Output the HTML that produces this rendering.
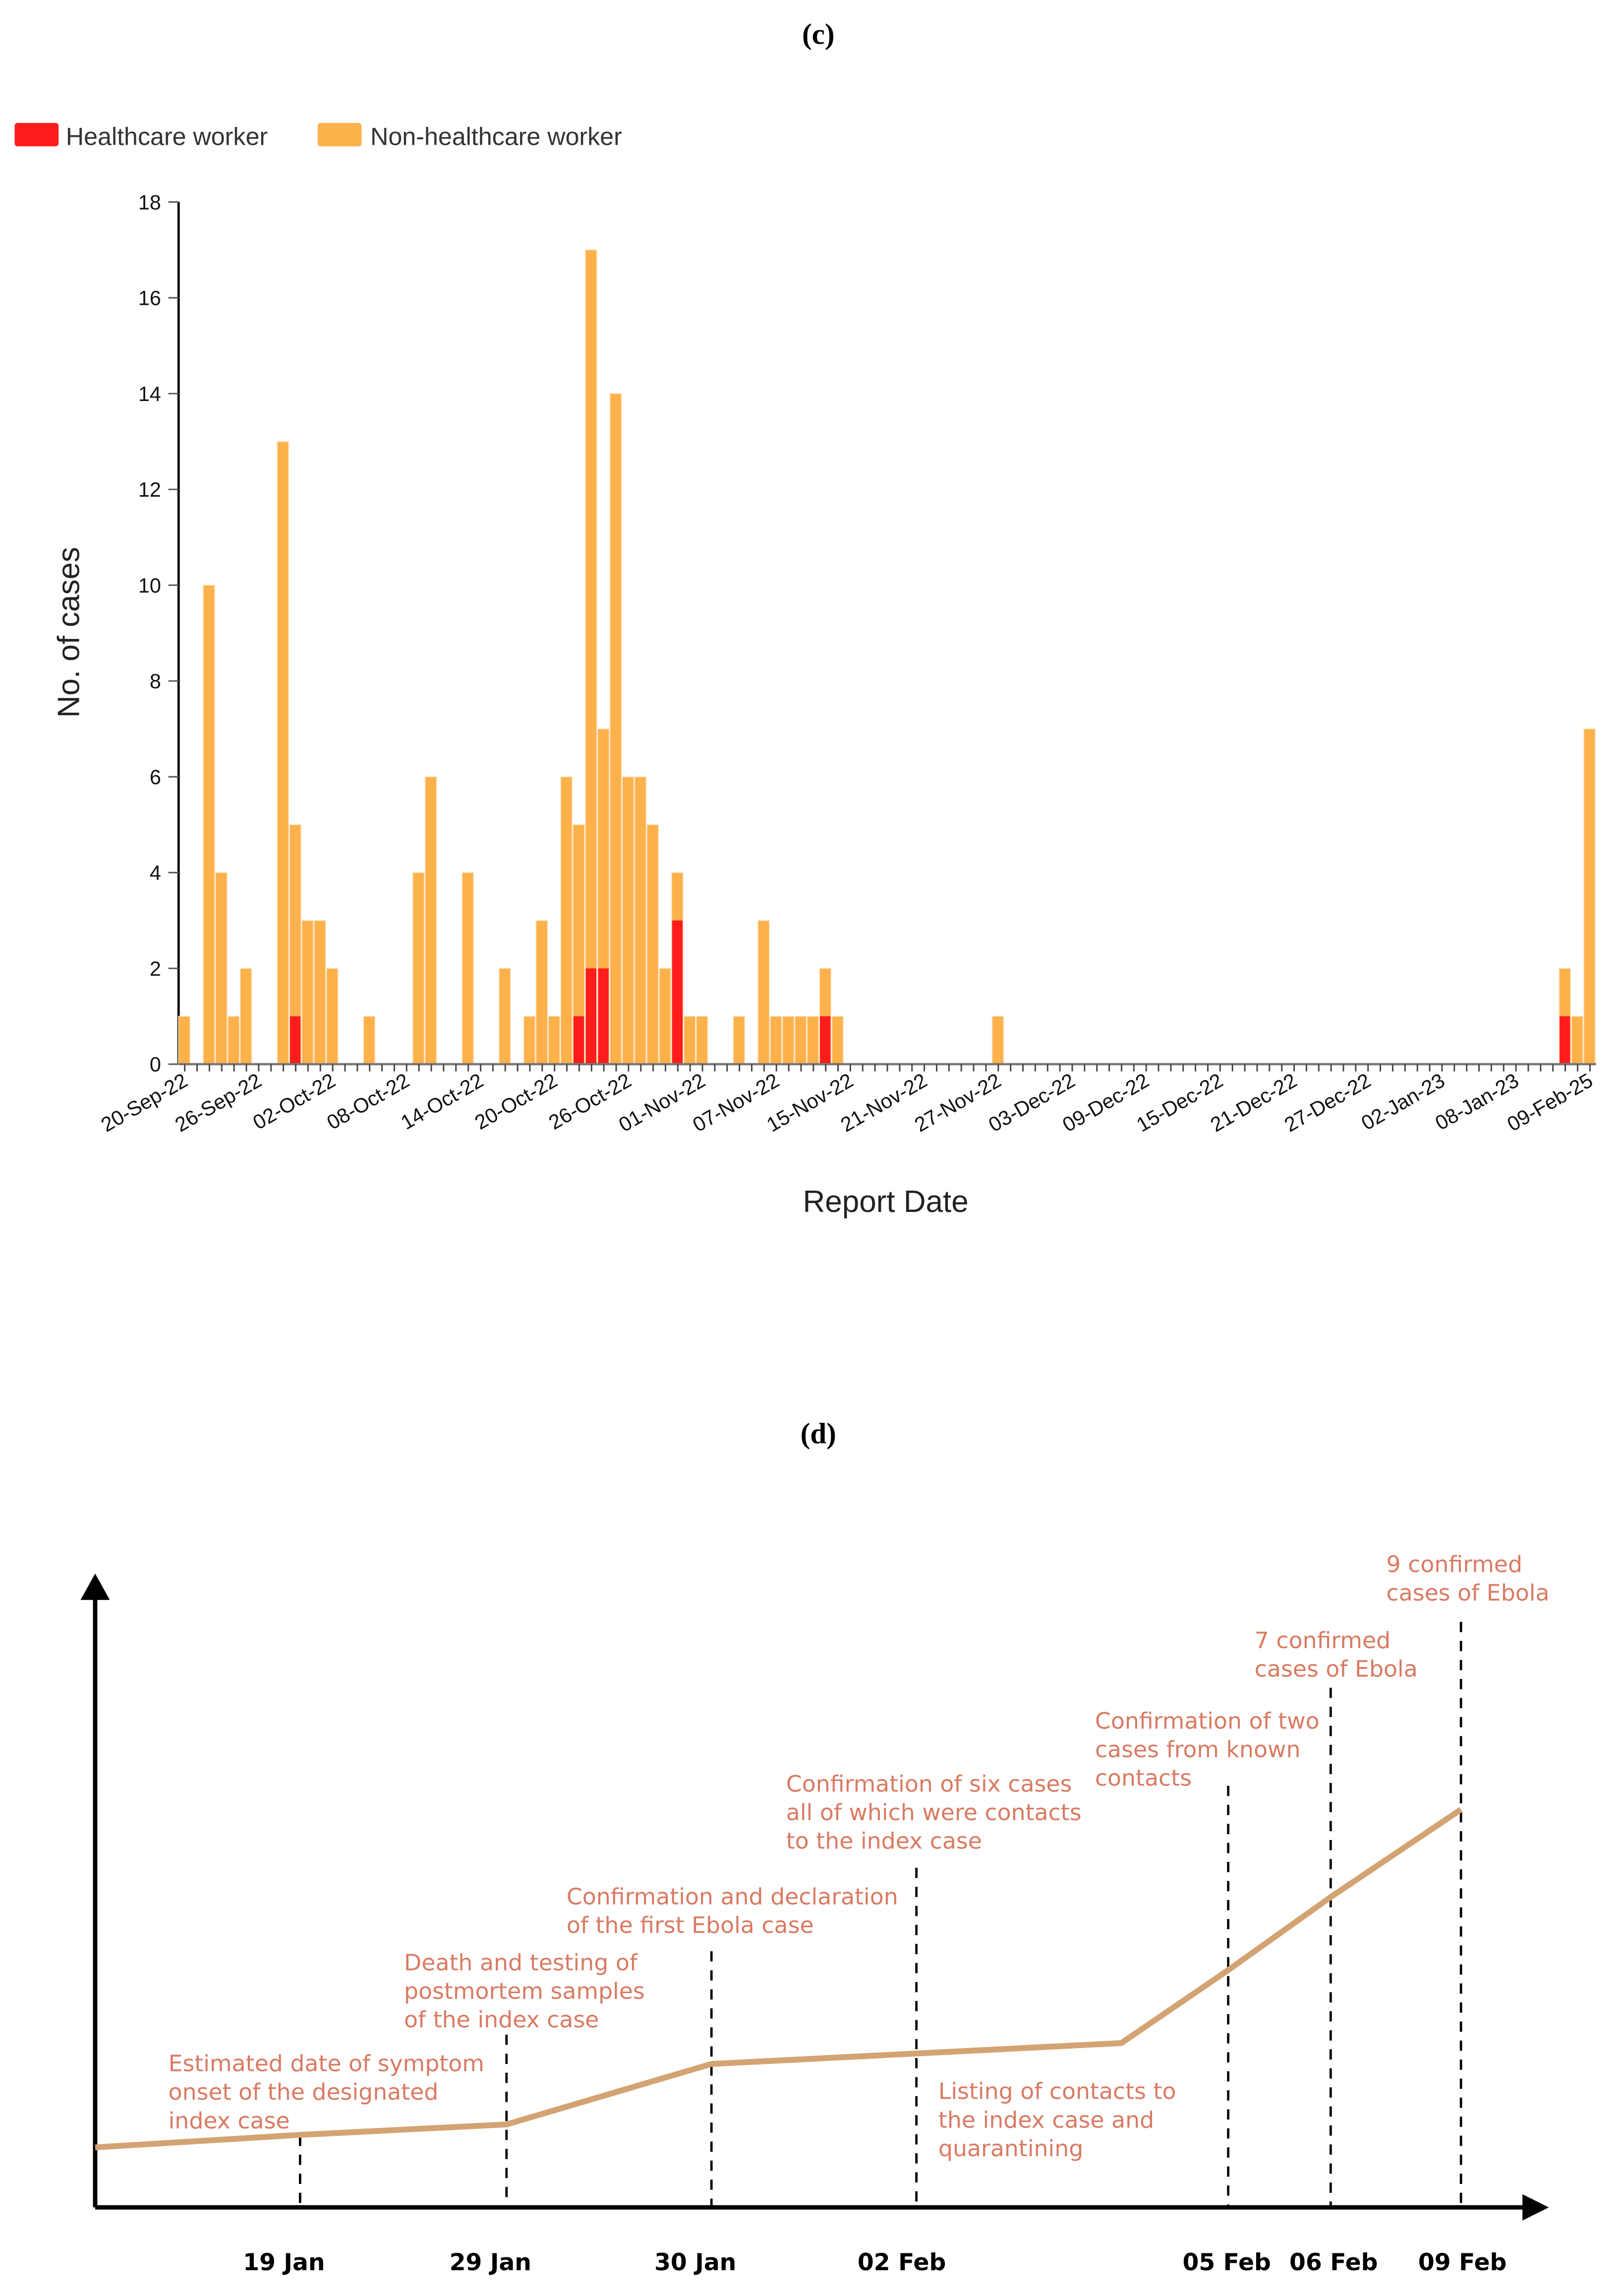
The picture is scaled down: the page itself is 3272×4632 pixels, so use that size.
<!DOCTYPE html>
<html><head><meta charset="utf-8"><style>
html,body{margin:0;padding:0;background:#fff;}
svg{display:block;}
</style></head><body>
<svg id="root" width="3272" height="4632" viewBox="0 0 1108 1568" preserveAspectRatio="xMinYMin meet" xmlns="http://www.w3.org/2000/svg">
<rect width="1108" height="1568" fill="#fff"/>
<text x="559" y="30" text-anchor="middle" font-family="Liberation Serif, serif" font-weight="bold" font-size="20">(c)</text>
<g>
<rect x="10" y="84" width="30" height="16" rx="2" fill="#ff1c1c"/>
<text x="45" y="99" font-family="Liberation Sans, sans-serif" font-size="17" fill="#333">Healthcare worker</text>
<rect x="217" y="84" width="30" height="16" rx="2" fill="#fdb14a"/>
<text x="253" y="99" font-family="Liberation Sans, sans-serif" font-size="17" fill="#333">Non-healthcare worker</text>
</g>
<g id="chartC"></g>
<text x="605" y="828" text-anchor="middle" font-family="Liberation Sans, sans-serif" font-size="21" fill="#222">Report Date</text>
<text transform="translate(54,432) rotate(-90)" text-anchor="middle" font-family="Liberation Sans, sans-serif" font-size="21" fill="#222">No. of cases</text>

<text x="559" y="986" text-anchor="middle" font-family="Liberation Serif, serif" font-weight="bold" font-size="20">(d)</text>
<g id="chartD"></g>
</svg>
<script>
// ---- Panel (c) data ----
const totals = [1,0,10,4,1,2,0,0,13,5,3,3,2,0,0,1,0,0,0,4,6,0,0,4,0,0,2,0,1,3,1,6,5,17,7,14,6,6,5,2,4,1,1,0,0,1,0,3,1,1,1,1,2,1,0,0,0,0,0,0,0,0,0,0,0,0,1,0,0,0,0,0,0,0,0,0,0,0,0,0,0,0,0,0,0,0,0,0,0,0,0,0,0,0,0,0,0,0,0,0,0,0,0,0,0,0,0,0,0,0,0,0,2,1,7];
const hcwIdx = [9,32,33,34,40,52,112];
const hcwVal = [1,1,2,2,3,1,1];
const tickLabels = ["20-Sep-22","26-Sep-22","02-Oct-22","08-Oct-22","14-Oct-22","20-Oct-22","26-Oct-22","01-Nov-22","07-Nov-22","15-Nov-22","21-Nov-22","27-Nov-22","03-Dec-22","09-Dec-22","15-Dec-22","21-Dec-22","27-Dec-22","02-Jan-23","08-Jan-23","09-Feb-25"];
const tickLabelIdx = [0,6,12,18,24,30,36,42,48,54,60,66,72,78,84,90,96,102,108,114];
const yTicks = [0,2,4,6,8,10,12,14,16,18];

// ---- Panel (d) data ----
const tlDates = ["19 Jan","29 Jan","30 Jan","02 Feb","","05 Feb","06 Feb","09 Feb"];
const tlLevel = [0.3,0.55,2.0,2.25,2.5,4.25,6.0,8.1];
const annotations = [
 {lines:["Estimated date of symptom","onset of the designated","index case"], x:115, y:1415},
 {lines:["Death and testing of","postmortem samples","of the index case"], x:276, y:1346},
 {lines:["Confirmation and declaration","of the first Ebola case"], x:387, y:1301},
 {lines:["Confirmation of six cases","all of which were contacts","to the index case"], x:537, y:1224},
 {lines:["Listing of contacts to","the index case and","quarantining"], x:641, y:1434},
 {lines:["Confirmation of two","cases from known","contacts"], x:748, y:1181},
 {lines:["7 confirmed","cases of Ebola"], x:857, y:1126},
 {lines:["9 confirmed","cases of Ebola"], x:947, y:1074}
];

const NS="http://www.w3.org/2000/svg";
function mk(tag, attrs, parent){const e=document.createElementNS(NS,tag);for(const k in attrs)e.setAttribute(k,attrs[k]);parent.appendChild(e);return e;}

// Panel c
(function(){
 const g=document.getElementById('chartC');
 const x0=122, step=8.42, yBase=727, yTop=138, yMax=18;
 const X=i=>x0+step*i; const Y=v=>yBase-(v/yMax)*(yBase-yTop);
 const ya=mk('line',{x1:x0,y1:yTop,x2:x0,y2:yBase,stroke:'#000','stroke-width':1.6},g);
 
 
 yTicks.forEach(t=>{
  const tk=mk('line',{x1:x0-7,x2:x0,y1:Y(t),y2:Y(t),stroke:'#555','stroke-width':1},g);
  
  
  const tl=mk('text',{x:x0-12,y:Y(t)+5,'text-anchor':'end','font-family':'Liberation Sans, sans-serif','font-size':14,fill:'#111'},g);
  tl.textContent=t;
  
  
 });
 totals.forEach((v,i)=>{
  if(v>0){
   const b=mk('rect',{x:X(i),y:Y(v),width:step-0.6,height:Y(0)-Y(v),fill:'#fdb14a',stroke:'#ffe3c0','stroke-width':0.6},g);
   
   
  }
 });
 hcwIdx.forEach((i,k)=>{
  const v=hcwVal[k];
  const b=mk('rect',{x:X(i)+0.3,y:Y(v),width:step-1.2,height:Y(0)-Y(v),fill:'#ff1c1c'},g);
  
  
 });
 const xa=mk('line',{x1:x0,y1:yBase,x2:X(totals.length),y2:yBase,stroke:'#777','stroke-width':1.5},g);
 
 
 totals.forEach((v,i)=>{
  const c=X(i)+step/2;
  const tk=mk('line',{x1:c,x2:c,y1:yBase,y2:yBase+5,stroke:'#444','stroke-width':1},g);
  
  
 });
 tickLabels.forEach((lab,k)=>{
  const c=X(tickLabelIdx[k])+step/2;
  const t=mk('text',{transform:`translate(${c+3},${yBase+14}) rotate(-30)`,'text-anchor':'end','font-family':'Liberation Sans, sans-serif','font-size':14,fill:'#111'},g);
  t.textContent=lab;
  
  
 });
})();

// Panel d
(function(){
 const g=document.getElementById('chartD');
 const ox=65, oy=1508;
 const dateX=[205,346,486,626,766,839,909,998];
 const lineStartLevel=0.0;
 const L=v=>1467-v*28.5;
 const ya=mk('line',{x1:ox,y1:oy,x2:ox,y2:1090,stroke:'#000','stroke-width':3},g);
 
 
 const ah=mk('polygon',{points:`${ox-10},${1093} ${ox+10},${1093} ${ox},${1075}`,fill:'#000'},g);
 
 
 const xa=mk('line',{x1:ox,y1:oy,x2:1042,y2:oy,stroke:'#000','stroke-width':3},g);
 
 
 const ah2=mk('polygon',{points:`1040,${oy-9} 1040,${oy+9} 1058,${oy}`,fill:'#000'},g);
 
 
 const dashTop=[1459,1390,1333,1276,null,1220,1153,1108];
 dateX.forEach((x,i)=>{
  if(dashTop[i]===null) return;
  const d=mk('line',{x1:x,x2:x,y1:dashTop[i],y2:oy,stroke:'#000','stroke-width':1.6,'stroke-dasharray':'7,6'},g);
  
  
 });
 let pts=[[ox,L(lineStartLevel)]];
 tlLevel.forEach((v,i)=>pts.push([dateX[i],L(v)]));
 const pl=mk('polyline',{points:pts.map(p=>p.join(',')).join(' '),fill:'none',stroke:'#d4a373','stroke-width':4,'stroke-linejoin':'round'},g);
 
 
 const dateLabX=[194,335,475,616,0,838,911,999];
 tlDates.forEach((d,i)=>{
  if(!d) return;
  const t=mk('text',{x:dateLabX[i],y:1551,'text-anchor':'middle','font-family':'DejaVu Sans, sans-serif','font-weight':'bold','font-size':16,fill:'#000'},g);
  t.textContent=d;
  
  
 });
 annotations.forEach(a=>{
  const t=mk('text',{x:a.x,y:a.y,'font-family':'DejaVu Sans, sans-serif','font-size':15.5,fill:'#d97a62'},g);
  
  
  a.lines.forEach((ln,k)=>{
   const s=mk('tspan',{x:a.x,dy:k===0?0:19.5},t); s.textContent=ln;
  });
 });
})();
</script>
</body></html>
